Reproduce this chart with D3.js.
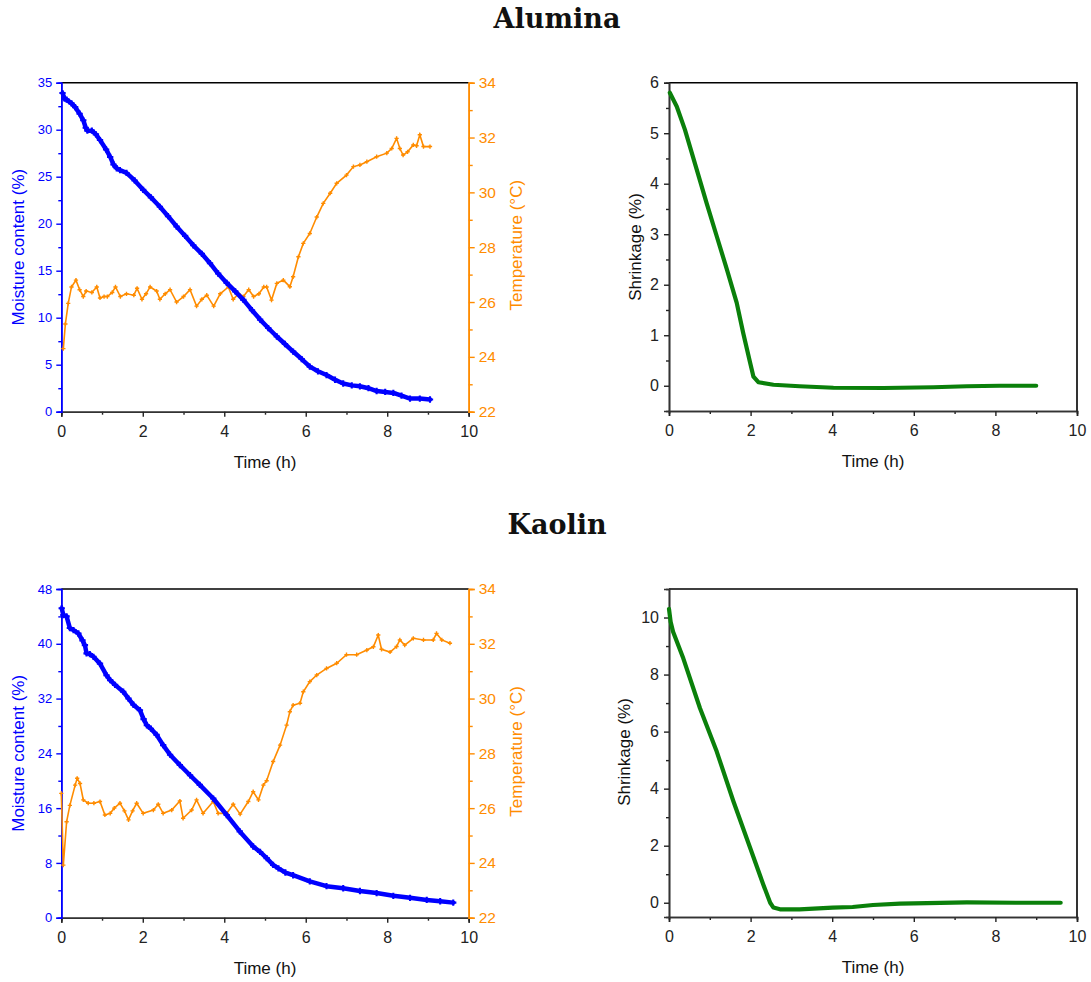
<!DOCTYPE html>
<html>
<head>
<meta charset="utf-8">
<script src="https://cdn.jsdelivr.net/npm/d3@7"></script>
<style>
  html, body { margin: 0; padding: 0; background: #fff; }
  svg { display: block; }
</style>
</head>
<body>
<svg id="chart" width="1091" height="982"></svg>
<script>
// ---------------- DATA (time in h) ----------------
const panelTitles = ["Alumina", "Kaolin"];

const xTicks = [0, 2, 4, 6, 8, 10];
const tempTicks = [22, 24, 26, 28, 30, 32, 34];
const aluminaMoistureTicks = [0, 5, 10, 15, 20, 25, 30, 35];
const kaolinMoistureTicks = [0, 8, 16, 24, 32, 40, 48];
const aluminaShrinkageTicks = [0, 1, 2, 3, 4, 5, 6];
const kaolinShrinkageTicks = [0, 2, 4, 6, 8, 10];

const aluminaMoisture = [
  [0.03,33.9],[0.08,33.3],[0.13,33.2],[0.25,32.8],[0.34,32.4],[0.45,31.7],[0.54,31.0],[0.6,30.2],
  [0.64,29.9],[0.75,29.9],[0.85,29.5],[0.95,28.9],[1.1,27.9],[1.2,27.1],[1.28,26.3],[1.36,25.9],
  [1.44,25.7],[1.6,25.4],[1.8,24.6],[2.01,23.6],[2.2,22.8],[2.42,21.8],[2.62,20.8],[2.83,19.7],
  [3.04,18.7],[3.24,17.7],[3.45,16.8],[3.65,15.8],[3.85,14.7],[4.06,13.7],[4.27,12.8],[4.47,11.9],
  [4.68,10.8],[4.88,9.8],[5.08,8.9],[5.29,8.0],[5.49,7.2],[5.69,6.4],[5.9,5.6],[6.1,4.8],
  [6.3,4.3],[6.51,3.9],[6.72,3.4],[6.92,3.0],[7.13,2.8],[7.33,2.7],[7.54,2.5],[7.74,2.2],
  [7.95,2.1],[8.15,2.0],[8.35,1.7],[8.56,1.4],[8.8,1.4],[9.05,1.3]
];

const aluminaTemperature = [
  [0.05,24.3],[0.1,25.2],[0.17,25.95],[0.25,26.55],[0.36,26.8],[0.45,26.45],[0.54,26.2],[0.61,26.4],
  [0.75,26.35],[0.87,26.55],[0.95,26.15],[1.05,26.2],[1.13,26.2],[1.25,26.35],[1.33,26.55],[1.45,26.2],
  [1.6,26.3],[1.78,26.25],[1.86,26.5],[1.98,26.1],[2.08,26.3],[2.18,26.55],[2.34,26.4],[2.42,26.1],
  [2.55,26.3],[2.67,26.45],[2.83,26.0],[3.0,26.2],[3.16,26.45],[3.32,25.85],[3.45,26.1],[3.57,26.25],
  [3.74,25.85],[3.9,26.3],[4.1,26.55],[4.22,26.1],[4.35,26.3],[4.47,26.2],[4.6,26.45],[4.72,26.2],
  [4.85,26.3],[4.97,26.55],[5.04,26.55],[5.16,26.07],[5.29,26.68],[5.45,26.8],[5.61,26.56],[5.69,26.92],
  [5.82,27.65],[5.94,28.14],[6.1,28.5],[6.27,29.1],[6.43,29.6],[6.6,29.97],[6.76,30.33],[7.0,30.63],
  [7.17,30.94],[7.33,31.0],[7.5,31.12],[7.74,31.3],[7.99,31.43],[8.11,31.6],[8.23,31.97],[8.31,31.6],
  [8.39,31.36],[8.5,31.48],[8.64,31.73],[8.72,31.7],[8.8,32.1],[8.89,31.67],[9.05,31.67]
];

const aluminaShrinkage = [
  [0.02,5.8],[0.19,5.53],[0.39,5.07],[0.68,4.28],[0.92,3.62],[1.17,2.96],[1.42,2.3],[1.66,1.64],
  [1.82,1.04],[1.99,0.45],[2.07,0.18],[2.19,0.07],[2.56,0.02],[3.2,-0.01],[4.03,-0.04],[5.26,-0.045],
  [6.48,-0.03],[7.3,-0.01],[8.1,0.0],[9.0,0.0]
];

const kaolinMoisture = [
  [0.01,45.2],[0.05,44.2],[0.13,44.0],[0.21,42.3],[0.3,42.0],[0.42,41.5],[0.52,40.5],[0.58,39.8],
  [0.62,38.6],[0.7,38.5],[0.79,38.1],[0.95,37.1],[1.11,35.4],[1.2,34.7],[1.32,34.0],[1.52,33.0],
  [1.65,32.0],[1.77,31.1],[1.93,30.3],[2.02,29.0],[2.1,28.1],[2.2,27.6],[2.34,26.7],[2.5,25.2],
  [2.67,23.8],[2.91,22.3],[3.16,20.8],[3.4,19.4],[3.73,17.4],[4.06,15.0],[4.38,12.6],[4.71,10.4],
  [4.88,9.6],[5.04,8.7],[5.2,7.7],[5.33,7.2],[5.5,6.6],[5.69,6.2],[6.1,5.3],[6.51,4.6],
  [6.92,4.3],[7.33,3.9],[7.74,3.6],[8.15,3.2],[8.56,2.9],[8.97,2.6],[9.3,2.4],[9.62,2.2]
];

const kaolinTemperature = [
  [0.0,26.54],[0.05,23.92],[0.13,25.5],[0.21,26.1],[0.34,26.84],[0.39,27.09],[0.46,26.9],[0.54,26.3],
  [0.66,26.18],[0.8,26.18],[0.95,26.24],[1.07,25.75],[1.2,25.81],[1.3,26.0],[1.44,26.18],[1.55,25.9],
  [1.65,25.57],[1.75,25.9],[1.85,26.18],[2.01,25.81],[2.26,25.93],[2.38,26.14],[2.5,25.81],[2.71,25.93],
  [2.91,26.26],[2.99,25.63],[3.2,25.93],[3.32,26.3],[3.48,25.81],[3.73,26.24],[3.85,25.81],[4.06,25.81],
  [4.22,26.14],[4.39,25.78],[4.59,26.24],[4.71,26.6],[4.84,26.3],[4.96,26.84],[5.04,27.0],[5.2,27.7],
  [5.37,28.3],[5.53,29.03],[5.61,29.52],[5.69,29.76],[5.86,29.83],[5.94,30.25],[6.1,30.62],[6.27,30.86],
  [6.51,31.1],[6.76,31.29],[7.0,31.6],[7.25,31.6],[7.5,31.77],[7.66,31.89],[7.78,32.32],[7.86,31.8],
  [8.07,31.7],[8.23,31.9],[8.31,32.14],[8.43,31.95],[8.64,32.2],[8.89,32.14],[9.13,32.14],[9.21,32.38],
  [9.34,32.14],[9.54,32.02]
];

const kaolinShrinkage = [
  [0.0,10.3],[0.04,9.85],[0.1,9.5],[0.35,8.57],[0.76,6.82],[1.17,5.3],[1.58,3.55],[1.99,1.92],[2.31,0.64],
  [2.48,0.0],[2.56,-0.17],[2.72,-0.23],[3.2,-0.23],[4.01,-0.17],[4.5,-0.15],[5.0,-0.08],[5.66,-0.03],
  [6.0,-0.02],[7.3,0.01],[8.5,0.0],[9.6,0.0]
];

// ---------------- STYLE ----------------
const BLUE = "#0000ff";
const ORANGE = "#ff8c00";
const GREEN = "#0a800a";
const AXIS = "#222";
const SANS = "'Liberation Sans', Arial, sans-serif";

const svg = d3.select("#chart");

function minorTicks(major) {
  const out = [];
  for (let i = 0; i < major.length - 1; i++) out.push((major[i] + major[i + 1]) / 2);
  return out;
}

function styleAxis(g, color, fontSize) {
  g.select(".domain").attr("stroke", color).attr("stroke-width", 1.6);
  g.selectAll(".tick line").attr("stroke", color).attr("stroke-width", 1.4);
  g.selectAll(".tick text").attr("fill", color).style("font-family", SANS).style("font-size", fontSize + "px");
  g.attr("font-family", null).attr("font-size", null);
}

function bottomAxis(x, top, bottom) {
  const gMin = svg.append("g").attr("transform", `translate(0,${bottom})`)
    .call(d3.axisBottom(x).tickValues(minorTicks(xTicks)).tickSize(3).tickFormat(""));
  styleAxis(gMin, AXIS, 16);
  const g = svg.append("g").attr("transform", `translate(0,${bottom})`)
    .call(d3.axisBottom(x).tickValues(xTicks).tickSize(5).tickPadding(9).tickFormat(d3.format("d")));
  styleAxis(g, AXIS, 16);
  g.select(".domain").attr("stroke", "#333");
}

function timeLabel(cx, y) {
  svg.append("text").attr("x", cx).attr("y", y).attr("text-anchor", "middle")
    .style("font-family", SANS).style("font-size", "17px").attr("fill", "#111").text("Time (h)");
}

function vLabel(x, cy, text, color) {
  svg.append("text").attr("transform", `translate(${x},${cy}) rotate(-90)`)
    .attr("text-anchor", "middle").attr("dominant-baseline", "central")
    .style("font-family", SANS).style("font-size", "17px").attr("fill", color).text(text);
}

function leftPanel(top, bottom, moisture, temperature, mTicks) {
  const L = 61.3, R = 468.7;
  const x = d3.scaleLinear().domain([0, 10]).range([L, R]);
  const yM = d3.scaleLinear().domain([mTicks[0], mTicks[mTicks.length - 1]]).range([bottom, top]);
  const yT = d3.scaleLinear().domain([22, 34]).range([bottom, top]);

  // top frame
  svg.append("line").attr("x1", L).attr("x2", R).attr("y1", top).attr("y2", top)
    .attr("stroke", "#000").attr("stroke-width", 1.6);

  bottomAxis(x, top, bottom);

  // left (moisture) axis
  const gmm = svg.append("g").attr("transform", `translate(${L},0)`)
    .call(d3.axisLeft(yM).tickValues(minorTicks(mTicks)).tickSize(3).tickFormat(""));
  styleAxis(gmm, BLUE, 13);
  const gm = svg.append("g").attr("transform", `translate(${L},0)`)
    .call(d3.axisLeft(yM).tickValues(mTicks).tickSize(5).tickPadding(4).tickFormat(d3.format("d")));
  styleAxis(gm, BLUE, 13);

  // right (temperature) axis
  const gtm = svg.append("g").attr("transform", `translate(${R},0)`)
    .call(d3.axisRight(yT).tickValues(minorTicks(tempTicks)).tickSize(4).tickFormat(""));
  styleAxis(gtm, ORANGE, 15.5);
  const gt = svg.append("g").attr("transform", `translate(${R},0)`)
    .call(d3.axisRight(yT).tickValues(tempTicks).tickSize(6).tickPadding(4).tickFormat(d3.format("d")));
  styleAxis(gt, ORANGE, 15.5);

  // temperature: thin line with small plus markers
  const tLine = d3.line().x(d => x(d[0])).y(d => yT(d[1])).curve(d3.curveLinear);
  svg.append("path").datum(temperature).attr("d", tLine)
    .attr("fill", "none").attr("stroke", ORANGE).attr("stroke-width", 1.6)
    .attr("stroke-linejoin", "miter");
  const plus = d3.symbol().type(d3.symbolCross).size(10);
  svg.append("g").selectAll("path").data(temperature).join("path")
    .attr("transform", d => `translate(${x(d[0])},${yT(d[1])})`)
    .attr("d", plus).attr("fill", ORANGE);

  // moisture: thick blue band
  const mLine = d3.line().x(d => x(d[0])).y(d => yM(d[1])).curve(d3.curveLinear);
  svg.append("path").datum(moisture).attr("d", mLine)
    .attr("fill", "none").attr("stroke", BLUE).attr("stroke-width", 4.5)
    .attr("stroke-linejoin", "round").attr("stroke-linecap", "round");
  const star = d3.symbol().type(d3.symbolCross).size(22);
  svg.append("g").selectAll("path").data(moisture).join("path")
    .attr("transform", d => `translate(${x(d[0])},${yM(d[1])})`)
    .attr("d", star).attr("fill", BLUE);

  timeLabel(265, bottom + 56);
  vLabel(18, (top + bottom) / 2 + 0, "Moisture content (%)", BLUE);
  vLabel(516, (top + bottom) / 2 - 2, "Temperature (°C)", ORANGE);
}

function rightPanel(top, bottom, shrink, sDomain, sTicks) {
  const L = 669, R = 1077;
  const x = d3.scaleLinear().domain([0, 10]).range([L, R]);
  const y = d3.scaleLinear().domain(sDomain).range([bottom, top]);

  // frame top & right
  svg.append("path").attr("d", `M${L},${top}H${R}V${bottom}`)
    .attr("fill", "none").attr("stroke", "#000").attr("stroke-width", 1.6);

  bottomAxis(x, top, bottom);

  const minor = minorTicks(sTicks);
  const gmm = svg.append("g").attr("transform", `translate(${L},0)`)
    .call(d3.axisLeft(y).tickValues(minor).tickSize(3).tickFormat(""));
  styleAxis(gmm, AXIS, 16);
  const g = svg.append("g").attr("transform", `translate(${L},0)`)
    .call(d3.axisLeft(y).tickValues(sTicks).tickSize(5).tickPadding(5).tickFormat(d3.format("d")));
  styleAxis(g, AXIS, 16);
  g.select(".domain").attr("stroke", "#333");

  const line = d3.line().x(d => x(d[0])).y(d => y(d[1])).curve(d3.curveLinear);
  svg.append("path").datum(shrink).attr("d", line)
    .attr("fill", "none").attr("stroke", GREEN).attr("stroke-width", 4.2)
    .attr("stroke-linejoin", "round").attr("stroke-linecap", "round");

  timeLabel(873, bottom + 56);
  return { x, y };
}

// ---------------- TITLES ----------------
[[panelTitles[0], 28], [panelTitles[1], 534]].forEach(([t, y]) => {
  svg.append("text").attr("x", 557).attr("y", y).attr("text-anchor", "middle")
    .style("font-family", "'DejaVu Serif', 'Liberation Serif', serif").style("font-weight", "bold")
    .style("font-size", "27px").attr("fill", "#111").text(t);
});

// ---------------- PANELS ----------------
leftPanel(82.7, 411.7, aluminaMoisture, aluminaTemperature, aluminaMoistureTicks);
rightPanel(82.7, 411, aluminaShrinkage, [-0.5, 6], aluminaShrinkageTicks);
vLabel(635, 247, "Shrinkage (%)", "#111");

leftPanel(589, 917.7, kaolinMoisture, kaolinTemperature, kaolinMoistureTicks);
rightPanel(589, 917, kaolinShrinkage, [-0.5, 11], kaolinShrinkageTicks);
vLabel(624, 752, "Shrinkage (%)", "#111");
</script>
</body>
</html>
